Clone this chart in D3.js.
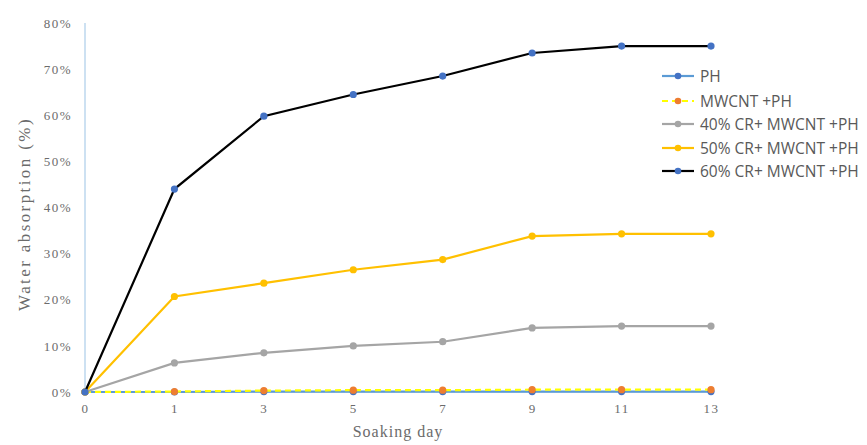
<!DOCTYPE html>
<html><head><meta charset="utf-8">
<script src="https://cdn.jsdelivr.net/npm/d3@7"></script>
<style>body{margin:0;background:#fff}svg{display:block}</style>
</head><body>
<svg id="c" width="867" height="445"></svg>
<script>
const days = ["0","1","3","5","7","9","11","13"];
const yTicks = [0,0.1,0.2,0.3,0.4,0.5,0.6,0.7,0.8];
const seriesNames = ["PH","MWCNT +PH","40% CR+ MWCNT +PH","50% CR+ MWCNT +PH","60% CR+ MWCNT +PH"];
const ph      = [0,0.000,0.001,0.001,0.001,0.001,0.001,0.001];
const mwcnt   = [0,0.001,0.003,0.004,0.004,0.005,0.005,0.005];
const cr40    = [0,0.063,0.085,0.100,0.109,0.139,0.143,0.143];
const cr50    = [0,0.207,0.236,0.265,0.287,0.338,0.343,0.343];
const cr60    = [0,0.440,0.598,0.645,0.685,0.735,0.750,0.750];

const styles = [
  {line:"#5B9BD5", marker:"#4472C4", dash:null},
  {line:"#FFFF00", marker:"#ED7D31", dash:"6,4"},
  {line:"#A5A5A5", marker:"#A5A5A5", dash:null},
  {line:"#FFC000", marker:"#FFC000", dash:null},
  {line:"#000000", marker:"#4472C4", dash:null}
];
const data = [ph, mwcnt, cr40, cr50, cr60];

const svg = d3.select("#c");
const x = d3.scalePoint().domain(days).range([85, 711]);
const y = d3.scaleLinear().domain([0,0.8]).range([392, 23]);

svg.append("line").attr("x1",85).attr("x2",85).attr("y1",23).attr("y2",392)
  .attr("stroke","#BDD7EE").attr("stroke-width",1.5);
svg.append("line").attr("x1",85).attr("x2",711).attr("y1",392).attr("y2",392)
  .attr("stroke","#BDD7EE").attr("stroke-width",1);

const serif = "'Liberation Serif','Times New Roman',serif";
const yAxis = svg.append("g").attr("transform","translate(85,0)")
  .call(d3.axisLeft(y).tickValues(yTicks).tickFormat(d3.format(".0%")).tickSize(0).tickPadding(13));
yAxis.select(".domain").remove();
yAxis.selectAll("text").attr("font-family",serif).attr("font-size",13)
  .attr("letter-spacing","1.5px").attr("fill","#6b6b6b");

const xAxis = svg.append("g").attr("transform","translate(0,392)")
  .call(d3.axisBottom(x).tickSize(0).tickPadding(12));
xAxis.select(".domain").remove();
xAxis.selectAll("text").attr("font-family",serif).attr("font-size",13)
  .attr("letter-spacing","1.5px").attr("fill","#6b6b6b");

svg.append("text").attr("x",398).attr("y",437).attr("text-anchor","middle")
  .attr("font-family",serif).attr("font-size",16).attr("letter-spacing","1px")
  .attr("fill","#6b6b6b").text("Soaking day");
svg.append("text").attr("transform","translate(30,214) rotate(-90)").attr("text-anchor","middle")
  .attr("font-family",serif).attr("font-size",17).attr("letter-spacing","2.4px")
  .attr("fill","#6b6b6b").text("Water absorption (%)");

const line = d3.line().x((d,i)=>x(days[i])).y(d=>y(d));
[0,1,2,3,4].forEach(k=>{
  const g = svg.append("g");
  g.append("path").attr("d", line(data[k])).attr("fill","none")
    .attr("stroke", styles[k].line).attr("stroke-width", 2.2)
    .attr("stroke-dasharray", styles[k].dash);
  g.selectAll("circle").data(data[k]).join("circle")
    .attr("cx",(d,i)=>x(days[i])).attr("cy",d=>y(d)).attr("r",3.6)
    .attr("fill",styles[k].marker);
});

const sans = "'Open Sans','Noto Sans',sans-serif";
const leg = svg.append("g");
const legY = [76,101,124,148,171];
seriesNames.forEach((n,k)=>{
  const gy = legY[k];
  leg.append("line").attr("x1",662).attr("x2",694).attr("y1",gy).attr("y2",gy)
    .attr("stroke",styles[k].line).attr("stroke-width",2.2).attr("stroke-dasharray",styles[k].dash);
  leg.append("circle").attr("cx",678).attr("cy",gy).attr("r",3.3).attr("fill",styles[k].marker);
  leg.append("text").attr("x",700).attr("y",gy).attr("dy","0.36em")
    .attr("font-family",sans).attr("font-size",15.5).attr("fill","#595959").text(n);
});
</script>
</body></html>
